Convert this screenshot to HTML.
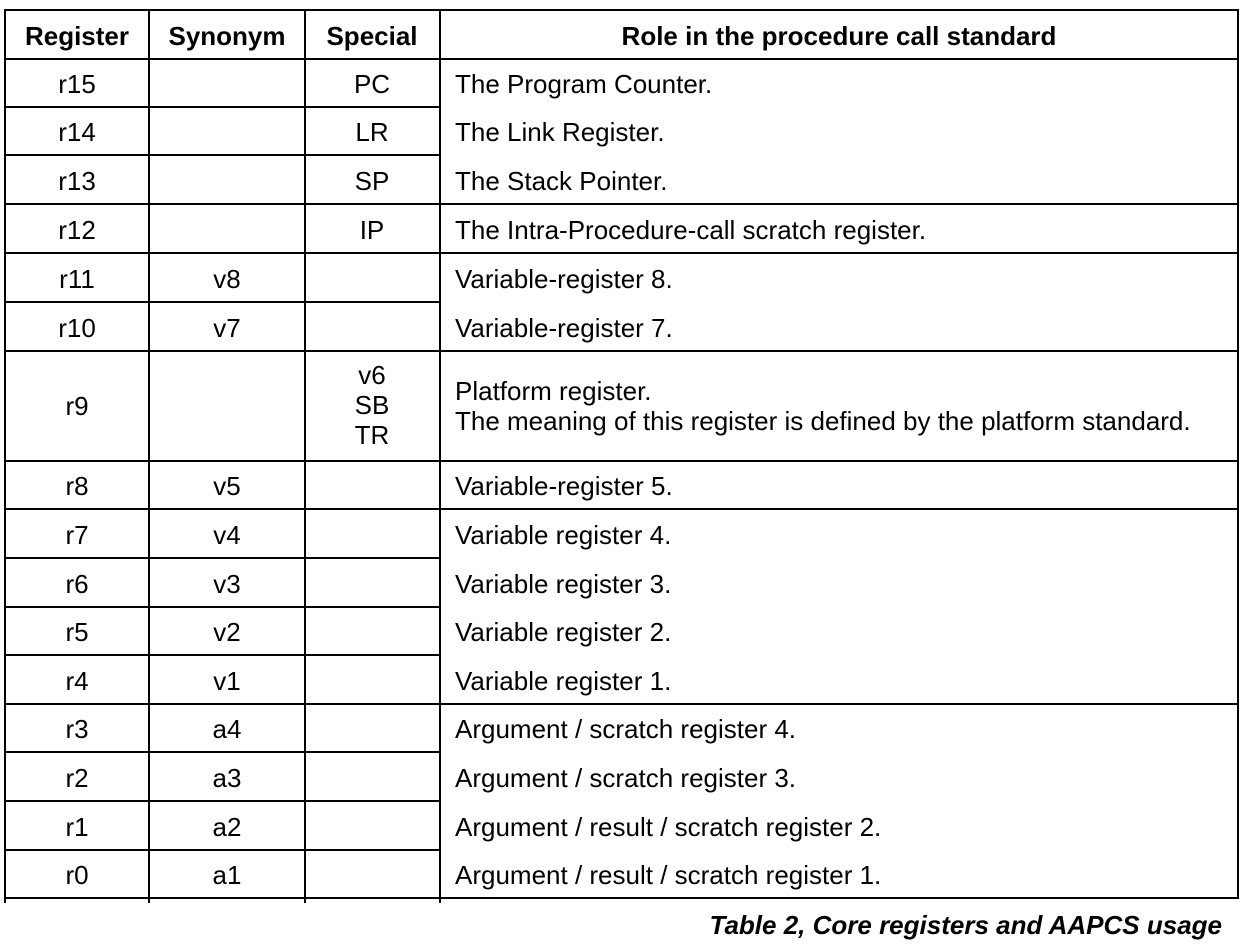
<!DOCTYPE html>
<html><head><meta charset="utf-8"><style>
html,body{margin:0;padding:0;background:#fff;}
svg text{font-family:"Liberation Sans",Arial,sans-serif;font-size:26px;fill:#000;}
</style></head><body>
<svg width="1246" height="946" xmlns="http://www.w3.org/2000/svg">
<g stroke="#000" stroke-width="2" fill="none">
<line x1="5" y1="10" x2="1239" y2="10"/>
<line x1="5" y1="59" x2="1239" y2="59"/>
<line x1="5" y1="898" x2="1239" y2="898"/>
<line x1="5" y1="9" x2="5" y2="903"/>
<line x1="149" y1="9" x2="149" y2="903"/>
<line x1="305" y1="9" x2="305" y2="903"/>
<line x1="440" y1="9" x2="440" y2="903"/>
<line x1="1238" y1="9" x2="1238" y2="899"/>
<line x1="5" y1="107" x2="440" y2="107"/>
<line x1="5" y1="155" x2="440" y2="155"/>
<line x1="5" y1="204" x2="1239" y2="204"/>
<line x1="5" y1="253" x2="1239" y2="253"/>
<line x1="5" y1="302" x2="440" y2="302"/>
<line x1="5" y1="351" x2="1239" y2="351"/>
<line x1="5" y1="461" x2="1239" y2="461"/>
<line x1="5" y1="509" x2="1239" y2="509"/>
<line x1="5" y1="558" x2="440" y2="558"/>
<line x1="5" y1="607" x2="440" y2="607"/>
<line x1="5" y1="655" x2="440" y2="655"/>
<line x1="5" y1="704" x2="1239" y2="704"/>
<line x1="5" y1="752" x2="440" y2="752"/>
<line x1="5" y1="801" x2="440" y2="801"/>
<line x1="5" y1="850" x2="440" y2="850"/>
</g>
<g text-anchor="middle">
<text x="77" y="45" font-weight="bold">Register</text>
<text x="227" y="45" font-weight="bold">Synonym</text>
<text x="372" y="45" font-weight="bold">Special</text>
<text x="839" y="45" font-weight="bold">Role in the procedure call standard</text>
</g>
<g text-anchor="middle">
<text x="77" y="93">r15</text><text x="372" y="93">PC</text>
<text x="77" y="141">r14</text><text x="372" y="141">LR</text>
<text x="77" y="190">r13</text><text x="372" y="190">SP</text>
<text x="77" y="239">r12</text><text x="372" y="239">IP</text>
<text x="77" y="288">r11</text><text x="227" y="288">v8</text>
<text x="77" y="337">r10</text><text x="227" y="337">v7</text>
<text x="77" y="415">r9</text>
<text x="372" y="384">v6</text><text x="372" y="414">SB</text><text x="372" y="444">TR</text>
<text x="77" y="495">r8</text><text x="227" y="495">v5</text>
<text x="77" y="544">r7</text><text x="227" y="544">v4</text>
<text x="77" y="593">r6</text><text x="227" y="593">v3</text>
<text x="77" y="641">r5</text><text x="227" y="641">v2</text>
<text x="77" y="690">r4</text><text x="227" y="690">v1</text>
<text x="77" y="738">r3</text><text x="227" y="738">a4</text>
<text x="77" y="787">r2</text><text x="227" y="787">a3</text>
<text x="77" y="836">r1</text><text x="227" y="836">a2</text>
<text x="77" y="884">r0</text><text x="227" y="884">a1</text>
</g>
<g>
<text x="455" y="93">The Program Counter.</text>
<text x="455" y="141">The Link Register.</text>
<text x="455" y="190">The Stack Pointer.</text>
<text x="455" y="239">The Intra-Procedure-call scratch register.</text>
<text x="455" y="288">Variable-register 8.</text>
<text x="455" y="337">Variable-register 7.</text>
<text x="455" y="400">Platform register.</text>
<text x="455" y="430">The meaning of this register is defined by the platform standard.</text>
<text x="455" y="495">Variable-register 5.</text>
<text x="455" y="544">Variable register 4.</text>
<text x="455" y="593">Variable register 3.</text>
<text x="455" y="641">Variable register 2.</text>
<text x="455" y="690">Variable register 1.</text>
<text x="455" y="738">Argument / scratch register 4.</text>
<text x="455" y="787">Argument / scratch register 3.</text>
<text x="455" y="836">Argument / result / scratch register 2.</text>
<text x="455" y="884">Argument / result / scratch register 1.</text>
</g>
<text x="1222" y="934" text-anchor="end" font-weight="bold" font-style="italic" style="font-size:26px">Table 2, Core registers and AAPCS usage</text>
</svg>
</body></html>
